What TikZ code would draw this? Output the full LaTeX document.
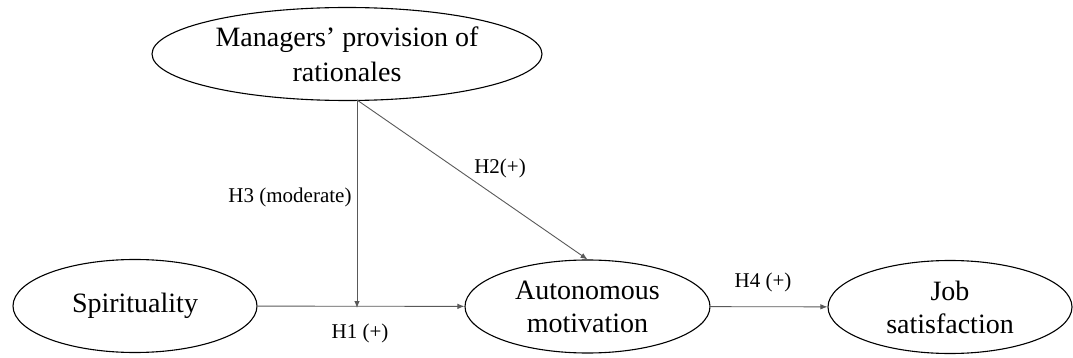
\documentclass[tikz,border=0pt]{standalone}
\usepackage{fontspec}
\setmainfont{Liberation Serif}
\usetikzlibrary{shapes.geometric,arrows.meta}
\begin{document}
\begin{tikzpicture}[x=1pt,y=-1pt,
  latent/.style={ellipse,draw=black,line width=1.1pt,inner sep=0pt,align=center,
    minimum width=244pt,minimum height=93pt,font=\fontsize{28}{33}\selectfont},
  conn/.style={draw=black!65,line width=0.9pt,-{Latex[length=7pt,width=5.5pt]}},
  hyp/.style={font=\fontsize{21}{24}\selectfont,inner sep=0pt}]
\useasboundingbox (0,0) rectangle (1073,358);
\node[latent,minimum width=390pt,minimum height=93pt,font=\fontsize{28}{35}\selectfont] (mp) at (347,54) {Managers’ provision of\\rationales};
\node[latent] (sp) at (135,306) {Spirituality};
\node[latent,minimum width=245pt] (am) at (587.5,306.5) {Autonomous\\motivation};
\node[latent] (js) at (950,307) {Job\\satisfaction};
\coordinate (src) at (357,100);
\coordinate (m) at (357,308);
\draw[conn] (sp) -- (am);
\draw[conn] (am) -- (js);
\draw[conn] (src) -- (m);
\draw[conn] (src) -- (am.north);
\node[hyp] (h1) at (360,333) {H1 (+)};
\node[hyp] (h2) at (500,168) {H2(+)};
\node[hyp] (h3) at (290,197) {H3 (moderate)};
\node[hyp] (h4) at (763,282) {H4 (+)};
\end{tikzpicture}
\end{document}
